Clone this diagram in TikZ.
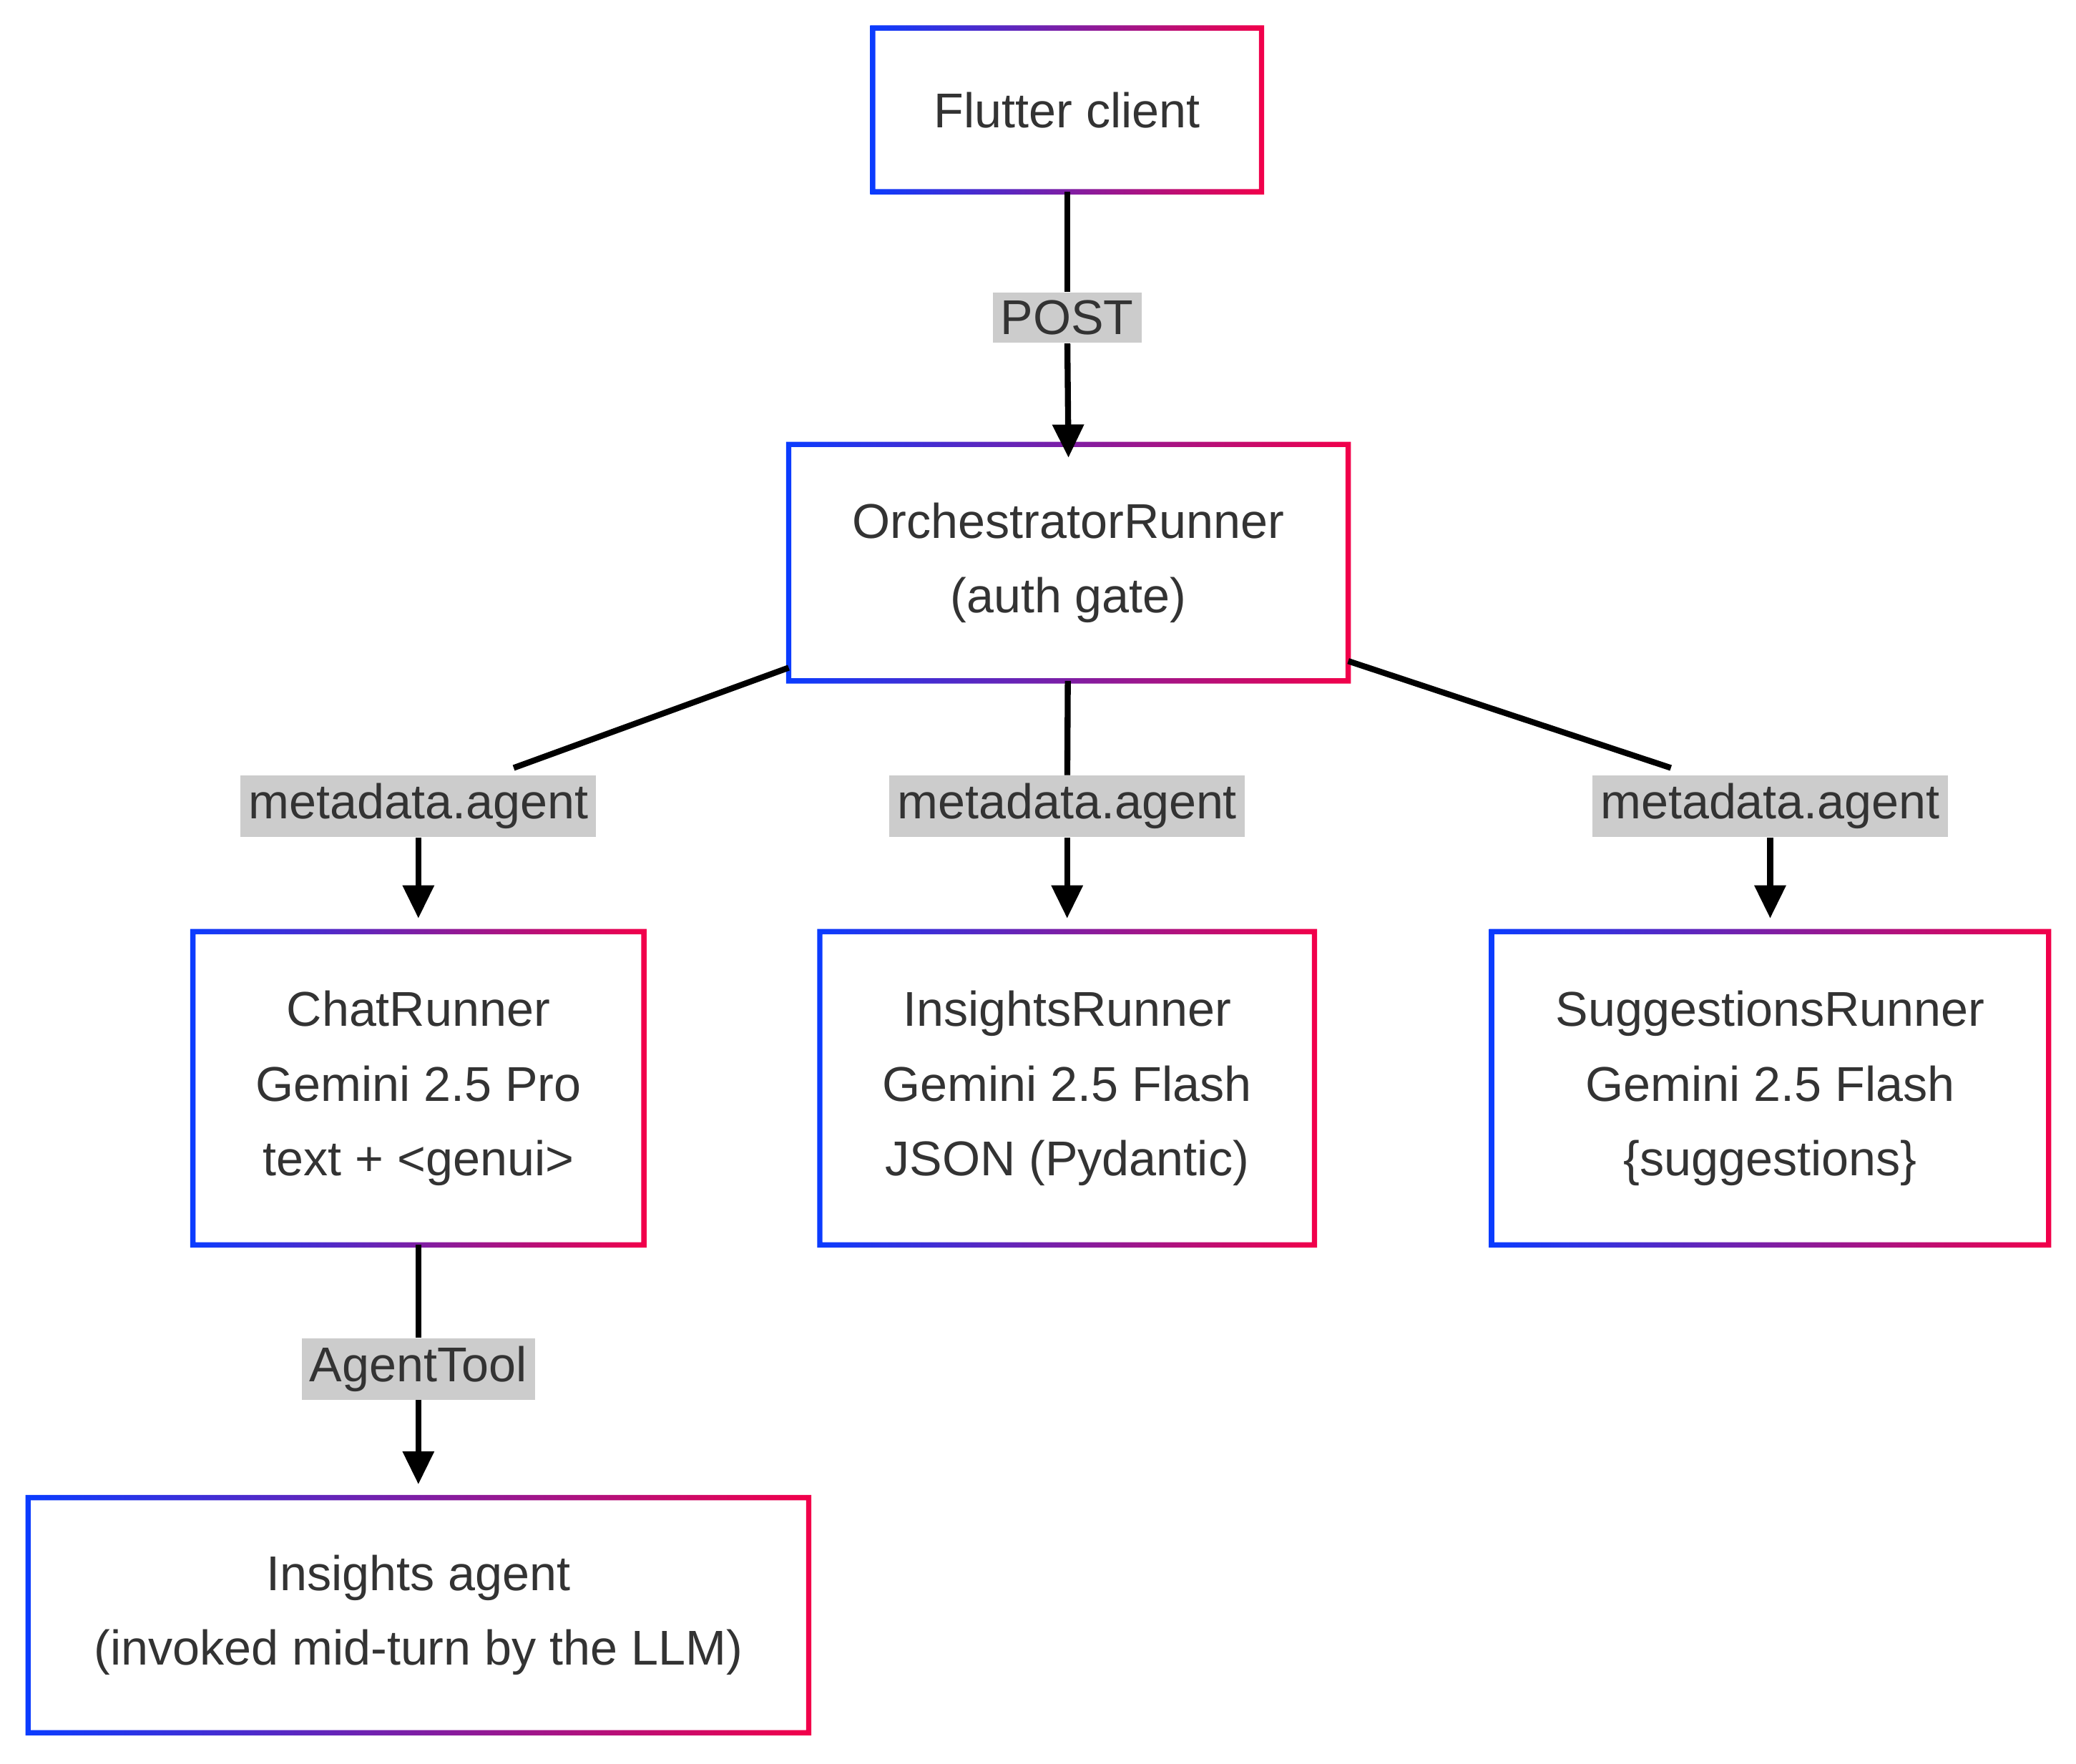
\documentclass[tikz,border=0pt]{standalone}
\usepackage{fontspec}
\setmainfont{Liberation Sans}
\usetikzlibrary{arrows.meta, positioning, calc}
\definecolor{gblue}{HTML}{0A3CFF}
\definecolor{gred}{HTML}{F2004A}
\definecolor{txt}{HTML}{333333}
\definecolor{lblbg}{HTML}{CCCCCC}

\begin{document}
\begin{tikzpicture}[x=0.02cm, y=-0.02cm,
    box/.style={rectangle, fill=white, align=center, text=txt,
      font=\fontsize{21}{32}\selectfont},
    lbl/.style={fill=lblbg, text=txt, inner sep=0.12cm,
      font=\fontsize{21}{26}\selectfont},
    link/.style={line width=0.09cm},
    arrow/.style={link, -{Triangle[length=0.5cm, width=0.46cm]}}]
  \useasboundingbox (0,0) rectangle (1568,1332);

  % boxes
  \node[box, minimum width=5.86cm, minimum height=2.46cm] (flutter) at (806,83) {Flutter client};
  \node[box, minimum width=8.44cm, minimum height=3.56cm] (orch) at (807,425) {OrchestratorRunner\\(auth gate)};
  \node[box, minimum width=6.8cm, minimum height=4.72cm] (chat) at (316,822) {ChatRunner\\Gemini 2.5 Pro\\text + <genui>};
  \node[box, minimum width=7.46cm, minimum height=4.72cm] (insights) at (806,822) {InsightsRunner\\Gemini 2.5 Flash\\JSON (Pydantic)};
  \node[box, minimum width=8.4cm, minimum height=4.72cm] (suggest) at (1337,822) {SuggestionsRunner\\Gemini 2.5 Flash\\\{suggestions\}};
  \node[box, minimum width=11.78cm, minimum height=3.54cm] (agent) at (316,1220) {Insights agent\\(invoked mid-turn by the LLM)};

  % gradient borders
  \foreach \n in {flutter, orch, chat, insights, suggest, agent}
    \shade[left color=gblue, right color=gred, even odd rule]
      ($(\n.south west)+(-0.04cm,-0.04cm)$) rectangle ($(\n.north east)+(0.04cm,0.04cm)$)
      ($(\n.south west)+(0.04cm,0.04cm)$) rectangle ($(\n.north east)+(-0.04cm,-0.04cm)$);

  % labels
  \node[lbl] (lpost) at (806,240) {POST};
  \node[lbl] (lchat) at (316,609) {metadata.agent};
  \node[lbl] (lins) at (806,609) {metadata.agent};
  \node[lbl] (lsug) at (1337,609) {metadata.agent};
  \node[lbl] (ltool) at (316,1034) {AgentTool};

  % connectors
  \draw[link] (flutter) -- (lpost);
  \draw[arrow] (lpost) -- ($(orch.north)+(0,-0.2cm)$);
  \draw[link] ($(orch.south west)+(0,0.2cm)$) -- (388,580);
  \draw[arrow] (lchat) -- ($(chat.north)+(0,0.2cm)$);
  \draw[link] (orch) -- (lins);
  \draw[arrow] (lins) -- ($(insights.north)+(0,0.2cm)$);
  \draw[link] ($(orch.south east)+(0,0.3cm)$) -- (1262,580);
  \draw[arrow] (lsug) -- ($(suggest.north)+(0,0.2cm)$);
  \draw[link] (chat) -- (ltool);
  \draw[arrow] (ltool) -- ($(agent.north)+(0,0.2cm)$);
\end{tikzpicture}
\end{document}
